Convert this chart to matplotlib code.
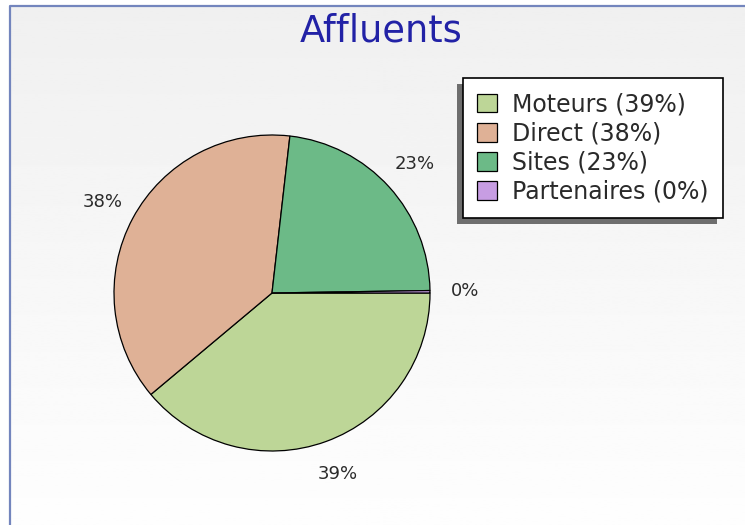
import numpy as np
import matplotlib
matplotlib.use("Agg")
import matplotlib.pyplot as plt
from matplotlib.patches import Rectangle
from matplotlib.lines import Line2D

# traffic sources
sources = ["Moteurs", "Direct", "Sites", "Partenaires"]
shares = [39, 38, 23, 0.25]
colors = ["#bdd697", "#dfb196", "#6cba87", "#c79de3"]

W, H = 745, 525
fig = plt.figure(figsize=(W / 100, H / 100), dpi=100)
fig.patch.set_facecolor("white")

# soft grey-to-white background inside the frame
bg = fig.add_axes([10 / W, 0, 1 - 10 / W, 1 - 6 / H])
bg.imshow(np.linspace(0.94, 0.995, 256).reshape(-1, 1), cmap="gray",
          vmin=0, vmax=1, aspect="auto", extent=[0, 1, 0, 1])
bg.set_axis_off()

# frame lines on left and top
fig.add_artist(Line2D([10 / W, 10 / W, 1], [0, 1 - 6 / H, 1 - 6 / H],
                      transform=fig.transFigure, color="#7385bd", lw=1.6))

fig.text(381 / W, 1 - 31 / H, "Affluents", ha="center", va="center",
         fontsize=26.5, color="#2222a6")

# pie: centre (272, 293) px, radius 158 px
R = 158
ax = fig.add_axes([(272 - R) / W, (H - 293 - R) / H, 2 * R / W, 2 * R / H])
total = sum(shares)
labels = [f"{round(v / total * 100)}%" for v in shares]
wedges, texts = ax.pie(shares, colors=colors, labels=labels, startangle=0,
                       counterclock=False, labeldistance=1.22, radius=1,
                       wedgeprops=dict(edgecolor="black", linewidth=0.9))
for t in texts:
    t.set_ha("center")
    t.set_va("center")
    t.set_fontsize(13)
    t.set_color("#2a2a2a")
ax.set_xlim(-1, 1)
ax.set_ylim(-1, 1)
ax.set_aspect("equal")
ax.set_axis_off()

leg_labels = [f"{s} ({l})" for s, l in zip(sources, labels)]
leg = fig.legend(wedges, leg_labels, loc="upper left",
                 bbox_to_anchor=(463 / W, 1 - 78 / H), bbox_transform=fig.transFigure,
                 borderaxespad=0, fontsize=17, frameon=True, fancybox=False,
                 edgecolor="black", framealpha=1, handlelength=0.85,
                 handleheight=0.85, handletextpad=0.64, labelspacing=0.22,
                 borderpad=0.6)
leg.get_frame().set_linewidth(1.2)
for t in leg.get_texts():
    t.set_color("#2a2a2a")

# drop shadow of the legend box, offset left and down
fig.canvas.draw()
bb = leg.get_window_extent()
shadow = Rectangle(((bb.x0 - 6) / W, (bb.y0 - 6) / H), bb.width / W, bb.height / H,
                   transform=fig.transFigure, facecolor="#6e6e6e", edgecolor="none",
                   zorder=leg.get_zorder() - 0.1)
fig.add_artist(shadow)

fig.savefig("out.png", dpi=100)
